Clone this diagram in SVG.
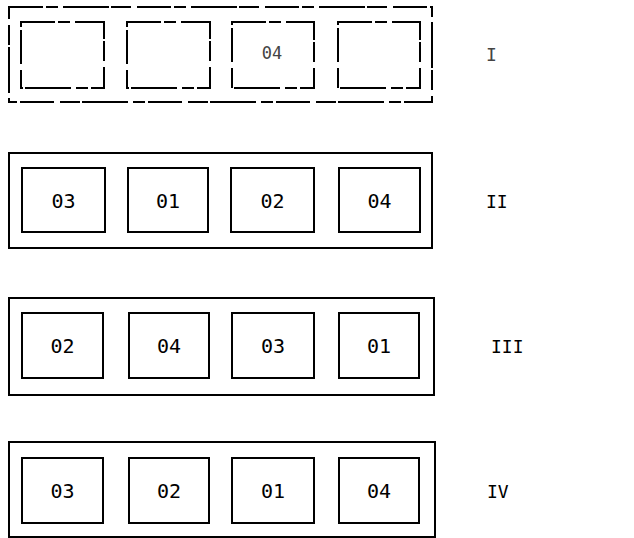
<svg xmlns="http://www.w3.org/2000/svg" width="634" height="538" viewBox="0 0 634 538">
<style>
rect{fill:none;stroke:#000;stroke-width:2}
rect.bg{fill:#fff;stroke:none}
.faded rect{stroke-dasharray:34 3 12 5 46 2 20 6}
text{font-family:"DejaVu Sans Mono","Liberation Mono",monospace;font-size:20px;fill:#000;text-anchor:middle}
.lbl{font-size:18px;text-anchor:start}
.faded text{fill:#444}
</style>
<rect class="bg" width="634" height="538"/>
<g id="row1" class="faded">
  <rect x="9" y="7" width="423" height="95"/>
  <g id="r1b1"><rect x="21" y="22" width="83" height="66"/></g>
  <g id="r1b2"><rect x="127" y="22" width="83" height="66"/></g>
  <g id="r1b3"><rect x="232" y="22" width="82" height="66"/><text x="272" y="59" style="font-size:17px">04</text></g>
  <g id="r1b4"><rect x="338" y="22" width="82" height="66"/></g>
  <text class="lbl" x="486" y="61">I</text>
</g>
<g id="row2">
  <rect x="9" y="153" width="423" height="95"/>
  <g id="r2b1"><rect x="22" y="168" width="83" height="64"/><text x="63.5" y="208">03</text></g>
  <g id="r2b2"><rect x="128" y="168" width="80" height="64"/><text x="168" y="208">01</text></g>
  <g id="r2b3"><rect x="231" y="168" width="83" height="64"/><text x="272.5" y="208">02</text></g>
  <g id="r2b4"><rect x="339" y="168" width="81" height="64"/><text x="379.5" y="208">04</text></g>
  <text class="lbl" x="486" y="208">II</text>
</g>
<g id="row3">
  <rect x="9" y="298" width="425" height="97"/>
  <g id="r3b1"><rect x="22" y="313" width="81" height="65"/><text x="62.5" y="353">02</text></g>
  <g id="r3b2"><rect x="129" y="313" width="80" height="65"/><text x="169" y="353">04</text></g>
  <g id="r3b3"><rect x="232" y="313" width="82" height="65"/><text x="273" y="353">03</text></g>
  <g id="r3b4"><rect x="339" y="313" width="80" height="65"/><text x="379" y="353">01</text></g>
  <text class="lbl" x="491" y="353">III</text>
</g>
<g id="row4">
  <rect x="9" y="442" width="426" height="95"/>
  <g id="r4b1"><rect x="22" y="458" width="81" height="65"/><text x="62.5" y="498">03</text></g>
  <g id="r4b2"><rect x="129" y="458" width="80" height="65"/><text x="169" y="498">02</text></g>
  <g id="r4b3"><rect x="232" y="458" width="82" height="65"/><text x="273" y="498">01</text></g>
  <g id="r4b4"><rect x="339" y="458" width="80" height="65"/><text x="379" y="498">04</text></g>
  <text class="lbl" x="487" y="498">IV</text>
</g>
</svg>
